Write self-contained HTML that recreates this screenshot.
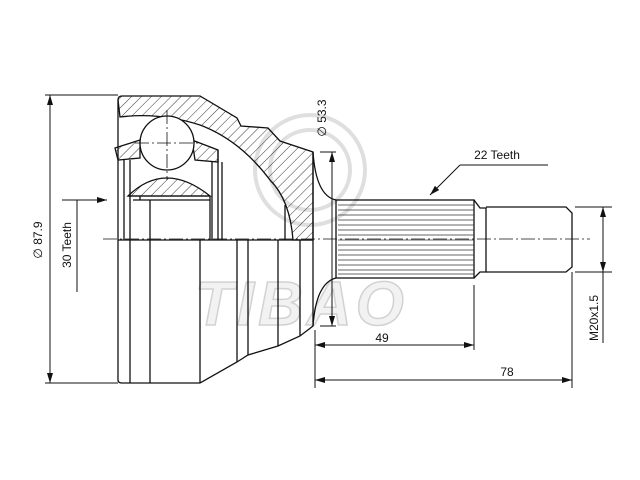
<!DOCTYPE html>
<html><head><meta charset="utf-8"><style>html,body{margin:0;padding:0;background:#fff}svg{display:block}</style></head><body>
<svg width="640" height="480" viewBox="0 0 640 480" xmlns="http://www.w3.org/2000/svg" font-family="Liberation Sans, sans-serif">
<defs>
<pattern id="h" width="7" height="7" patternUnits="userSpaceOnUse" patternTransform="rotate(45)"><line x1="0" y1="0" x2="0" y2="7" stroke="#222" stroke-width="0.9"/></pattern>
<marker id="a" viewBox="0 0 10 6" refX="10" refY="3" markerWidth="10" markerHeight="6" orient="auto-start-reverse" markerUnits="userSpaceOnUse"><path d="M0,0L10,3L0,6z" fill="#111"/></marker>
</defs>
<g fill="none" stroke="#d8d8d8" stroke-width="4" opacity="0.8">
<circle cx="310" cy="170" r="55"/><circle cx="310" cy="170" r="40"/>
</g>
<text x="195" y="325" font-size="62" font-style="italic" font-weight="bold" fill="#f2f2f2" stroke="#d2d2d2" stroke-width="1.5" letter-spacing="4">TIBAO</text>
<g fill="none" stroke="#111" stroke-width="1.3">
<path d="M118,100 Q118,96 122,96 L200,96 L237,118 L241,126 L268,128 L280,141 L313,152 L313,240 L293,240 Q290,200 270,180 Q240,140 200,125 Q160,112 120,117 Z" fill="url(#h)"/>
<path d="M115,148 L140,140 L140,158 L118,160 Z" fill="url(#h)"/>
<path d="M192,140 L218,150 L218,162 L195,160 Z" fill="url(#h)"/>
<circle cx="167" cy="143" r="27" fill="#fff"/>
<path d="M128,196 Q165,160 210,196 Z" fill="url(#h)"/>
<path d="M118,100 L118,380 Q118,383 122,383 L200,383 L237,362 L248,355 L278,346 L300,336 L313,326 L313,152"/>
<line x1="124" y1="160" x2="124" y2="240"/>
<line x1="130" y1="160" x2="130" y2="383"/>
<line x1="140" y1="196" x2="140" y2="200"/>
<line x1="150" y1="200" x2="150" y2="383"/>
<line x1="128" y1="196" x2="210" y2="196"/>
<line x1="133" y1="200" x2="210" y2="200"/>
<line x1="200" y1="240" x2="200" y2="383"/>
<line x1="210" y1="196" x2="210" y2="240"/>
<line x1="212" y1="162" x2="212" y2="240"/>
<line x1="218" y1="150" x2="218" y2="240"/>
<line x1="222" y1="162" x2="222" y2="240"/>
<line x1="237" y1="240" x2="237" y2="362"/>
<line x1="248" y1="240" x2="248" y2="355"/>
<line x1="278" y1="240" x2="278" y2="346"/>
<line x1="300" y1="240" x2="300" y2="336"/>
<line x1="285" y1="205" x2="285" y2="240"/>
<line x1="118" y1="240" x2="313" y2="240"/>
<path d="M313,152 Q316,196 336,200"/>
<path d="M313,326 Q316,283 336,278"/>
<rect x="336" y="200" width="138" height="78"/>
<path d="M474,200 L480,208 L486,208 L486,272 L480,272 L474,278"/>
<path d="M486,207 L566,207 L572,213 L572,267 L566,272 L486,272"/>
</g>
<g stroke="#333" stroke-width="0.7">
<line x1="338" y1="205" x2="474" y2="205"/><line x1="338" y1="210" x2="474" y2="210"/><line x1="338" y1="215" x2="474" y2="215"/><line x1="338" y1="220" x2="474" y2="220"/><line x1="338" y1="225" x2="474" y2="225"/><line x1="338" y1="230" x2="474" y2="230"/><line x1="338" y1="235" x2="474" y2="235"/><line x1="338" y1="240" x2="474" y2="240"/><line x1="338" y1="245" x2="474" y2="245"/><line x1="338" y1="250" x2="474" y2="250"/><line x1="338" y1="255" x2="474" y2="255"/><line x1="338" y1="260" x2="474" y2="260"/><line x1="338" y1="265" x2="474" y2="265"/><line x1="338" y1="270" x2="474" y2="270"/><line x1="338" y1="274" x2="474" y2="274"/>
</g>
<g stroke="#111" stroke-width="0.8" stroke-dasharray="14,3,2,3">
<line x1="103" y1="239" x2="590" y2="239"/>
<line x1="167" y1="110" x2="167" y2="180"/>
<line x1="135" y1="143" x2="200" y2="143"/>
</g>
<g stroke="#111" stroke-width="1" fill="none">
<line x1="45" y1="95" x2="118" y2="95"/><line x1="45" y1="383" x2="118" y2="383"/>
<line x1="50" y1="95" x2="50" y2="383" marker-start="url(#a)" marker-end="url(#a)"/>
<line x1="62" y1="200" x2="107" y2="200" marker-end="url(#a)"/>
<line x1="77" y1="200" x2="77" y2="292"/>
<line x1="320" y1="152" x2="336" y2="152"/><line x1="320" y1="326" x2="336" y2="326"/>
<line x1="332" y1="152" x2="332" y2="326" marker-start="url(#a)" marker-end="url(#a)"/>
<line x1="575" y1="207" x2="612" y2="207"/><line x1="575" y1="272" x2="612" y2="272"/>
<line x1="603" y1="207" x2="603" y2="272" marker-start="url(#a)" marker-end="url(#a)"/>
<line x1="603" y1="272" x2="603" y2="343"/>
<line x1="474" y1="285" x2="474" y2="350"/>
<line x1="315" y1="330" x2="315" y2="388"/>
<line x1="572" y1="272" x2="572" y2="388"/>
<line x1="315" y1="345" x2="474" y2="345" marker-start="url(#a)" marker-end="url(#a)"/>
<line x1="315" y1="380" x2="572" y2="380" marker-start="url(#a)" marker-end="url(#a)"/>
<line x1="460" y1="165" x2="548" y2="165"/>
<line x1="460" y1="165" x2="430" y2="195" marker-end="url(#a)"/>
</g>
<g fill="#111" font-size="12">
<text x="42" y="240" transform="rotate(-90 42 240)" text-anchor="middle">∅ 87.9</text>
<text x="71" y="245" transform="rotate(-90 71 245)" text-anchor="middle">30 Teeth</text>
<text x="326" y="118" transform="rotate(-90 326 118)" text-anchor="middle">∅ 53.3</text>
<text x="598" y="318" transform="rotate(-90 598 318)" text-anchor="middle">M20x1.5</text>
<text x="497" y="159" text-anchor="middle">22 Teeth</text>
<text x="382" y="342" text-anchor="middle">49</text>
<text x="507" y="376" text-anchor="middle">78</text>
</g>
</svg>
</body></html>
